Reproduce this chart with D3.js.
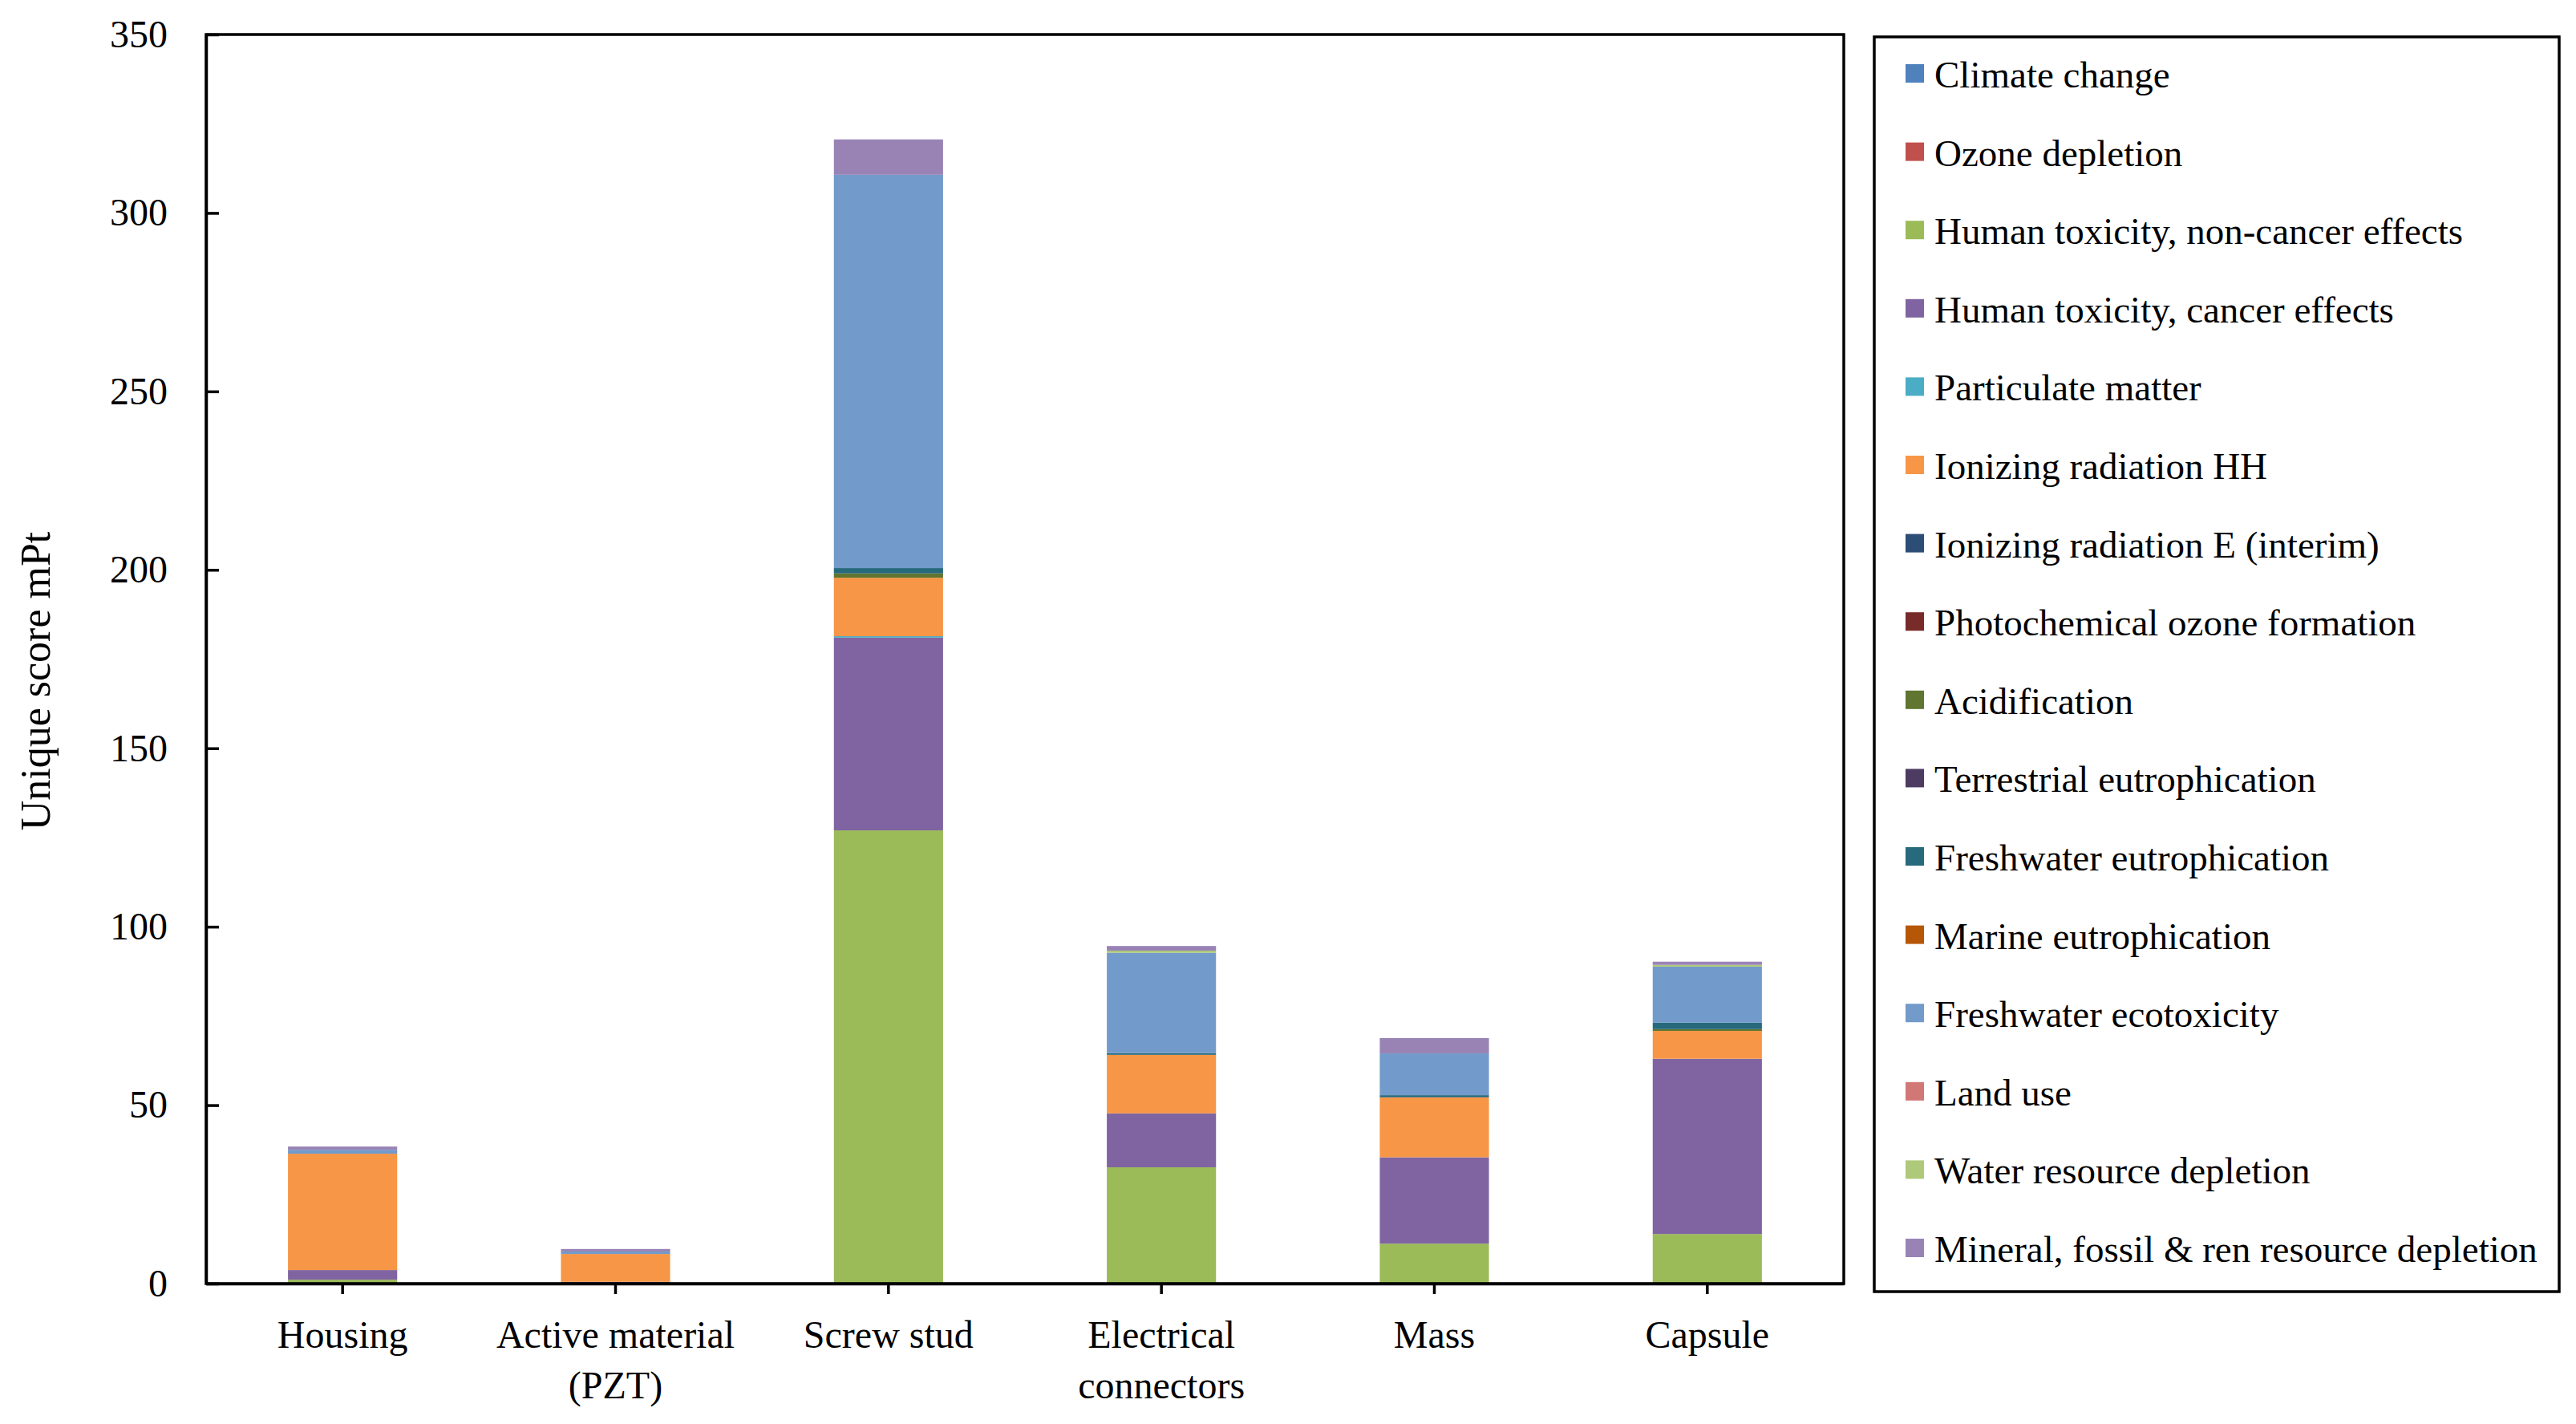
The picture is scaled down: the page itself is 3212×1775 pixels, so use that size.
<!DOCTYPE html>
<html lang="en">
<head>
  <meta charset="UTF-8" />
  <title>Unique score by component</title>
  <script src="https://d3js.org/d3.v7.min.js"></script>
  <style>
    body {
      margin: 0;
      background: #fff;
    }
    svg {
      display: block;
    }
    svg text {
      font-family: "Liberation Serif", "Times New Roman", serif;
    }
  </style>
</head>
<body>
  <div id="chart"></div>

  <script>
    const categories = ["Housing", "Active material\n(PZT)", "Screw stud", "Electrical\nconnectors", "Mass", "Capsule"];

    const impactNames = [
      "Climate change",
      "Ozone depletion",
      "Human toxicity, non-cancer effects",
      "Human toxicity, cancer effects",
      "Particulate matter",
      "Ionizing radiation HH",
      "Ionizing radiation E (interim)",
      "Photochemical ozone formation",
      "Acidification",
      "Terrestrial eutrophication",
      "Freshwater eutrophication",
      "Marine eutrophication",
      "Freshwater ecotoxicity",
      "Land use",
      "Water resource depletion",
      "Mineral, fossil & ren resource depletion"
    ];

    const impactColors = [
      "#4f81bd", "#c0504d", "#9bbb59", "#8064a2", "#4bacc6", "#f79646",
      "#2c4d75", "#772c2a", "#5f7530", "#4d3b62", "#276a7c", "#b65708",
      "#729aca", "#d17775", "#afc97a", "#9983b5"
    ];

    // values in mPt, one per category (same order as categories)
    const climateChange      = [0, 0, 0, 0, 0, 0];
    const ozoneDepletion     = [0, 0, 0, 0, 0, 0];
    const humanToxNonCancer  = [1.1, 0.1, 127.0, 32.6, 11.2, 13.9];
    const humanToxCancer     = [2.7, 0.4, 54.0, 15.1, 24.2, 49.1];
    const particulateMatter  = [0, 0, 0.4, 0, 0, 0];
    const ionizingHH         = [32.6, 7.8, 16.4, 16.4, 16.8, 7.8];
    const ionizingE          = [0, 0, 0, 0, 0, 0];
    const photochemOzone     = [0, 0, 0, 0, 0, 0];
    const acidification      = [0, 0, 1.2, 0, 0, 0.5];
    const terrestrialEutro   = [0, 0, 0, 0, 0, 0];
    const freshwaterEutro    = [0, 0, 1.5, 0.5, 0.6, 1.8];
    const marineEutro        = [0, 0, 0, 0, 0, 0];
    const freshwaterEcotox   = [1.1, 0.7, 110.2, 28.1, 11.7, 15.7];
    const landUse            = [0, 0, 0, 0, 0, 0];
    const waterDepletion     = [0, 0, 0, 0.6, 0, 0.5];
    const mineralDepletion   = [0.9, 0.7, 9.9, 1.3, 4.3, 0.9];

    const yTicks = [0, 50, 100, 150, 200, 250, 300, 350];

    const seriesValues = [
      climateChange, ozoneDepletion, humanToxNonCancer, humanToxCancer,
      particulateMatter, ionizingHH, ionizingE, photochemOzone, acidification,
      terrestrialEutro, freshwaterEutro, marineEutro, freshwaterEcotox,
      landUse, waterDepletion, mineralDepletion
    ];

    // rows for d3.stack
    const rows = categories.map((c, i) => {
      const row = { category: c };
      impactNames.forEach((name, k) => { row[name] = seriesValues[k][i]; });
      return row;
    });

    const width = 3212;
    const height = 1775;
    const plot = { left: 257, right: 2299, top: 43, bottom: 1600 };
    const fontSize = 48;

    const svg = d3.select("#chart")
      .append("svg")
      .attr("width", width)
      .attr("height", height);

    const x = d3.scaleBand()
      .domain(categories)
      .range([plot.left, plot.right])
      .paddingInner(0.6)
      .paddingOuter(0.3);

    const y = d3.scaleLinear()
      .domain([0, 350])
      .range([plot.bottom, plot.top]);

    const color = d3.scaleOrdinal().domain(impactNames).range(impactColors);

    const stacked = d3.stack().keys(impactNames)(rows);

    // bars
    svg.append("g")
      .selectAll("g")
      .data(stacked)
      .join("g")
      .attr("fill", d => color(d.key))
      .selectAll("rect")
      .data(d => d)
      .join("rect")
      .attr("x", d => x(d.data.category))
      .attr("width", x.bandwidth())
      .attr("y", d => y(d[1]))
      .attr("height", d => y(d[0]) - y(d[1]));

    // plot frame
    svg.append("rect")
      .attr("x", plot.left)
      .attr("y", plot.top)
      .attr("width", plot.right - plot.left)
      .attr("height", plot.bottom - plot.top)
      .attr("fill", "none")
      .attr("stroke", "#000")
      .attr("stroke-width", 3.5);

    // y axis
    const yAxis = svg.append("g")
      .attr("transform", `translate(${plot.left},0)`)
      .call(d3.axisLeft(y).tickValues(yTicks).tickSize(-16).tickSizeOuter(0).tickPadding(48));
    yAxis.attr("font-family", null).attr("font-size", fontSize);
    yAxis.select(".domain").attr("stroke-width", 3.5);
    yAxis.selectAll(".tick line").attr("stroke-width", 3.5);
    yAxis.selectAll("text").attr("fill", "#000");

    // x axis
    const xAxis = svg.append("g")
      .attr("transform", `translate(0,${plot.bottom})`)
      .call(d3.axisBottom(x).tickSize(13).tickSizeOuter(0).tickFormat(""));
    xAxis.select(".domain").attr("stroke-width", 3.5);
    xAxis.selectAll(".tick line").attr("stroke-width", 3.5);

    const xLabels = svg.append("g")
      .attr("font-size", fontSize)
      .attr("text-anchor", "middle")
      .selectAll("text")
      .data(categories)
      .join("text")
      .attr("x", d => x(d) + x.bandwidth() / 2)
      .attr("y", 1680);
    xLabels.selectAll("tspan")
      .data(d => d.split("\n"))
      .join("tspan")
      .attr("x", function () { return d3.select(this.parentNode).attr("x"); })
      .attr("dy", (d, i) => i === 0 ? 0 : 63)
      .text(d => d);

    // y axis title
    svg.append("text")
      .attr("transform", "translate(62,849) rotate(-90)")
      .attr("text-anchor", "middle")
      .attr("font-size", 52)
      .text("Unique score mPt");

    // legend
    const legend = svg.append("g");
    legend.append("rect")
      .attr("x", 2337)
      .attr("y", 46)
      .attr("width", 3191 - 2337)
      .attr("height", 1610 - 46)
      .attr("fill", "none")
      .attr("stroke", "#000")
      .attr("stroke-width", 3.5);

    const items = legend.selectAll(".item")
      .data(impactNames)
      .join("g")
      .attr("class", "item")
      .attr("transform", (d, i) => `translate(2376,${109 + i * 97.6})`);

    items.append("rect")
      .attr("x", 0)
      .attr("y", -29)
      .attr("width", 23)
      .attr("height", 23)
      .attr("fill", d => color(d));

    items.append("text")
      .attr("x", 36)
      .attr("y", 0)
      .attr("font-size", 47)
      .text(d => d);
  </script>
</body>
</html>
